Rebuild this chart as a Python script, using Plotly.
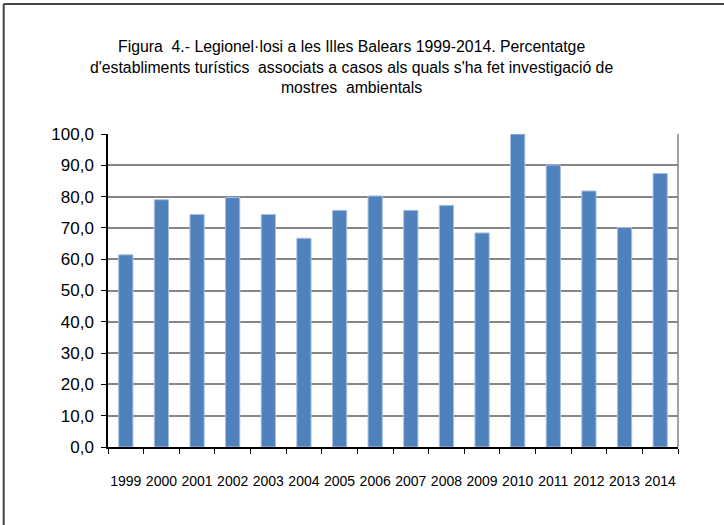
import plotly.graph_objects as go

years = ["1999", "2000", "2001", "2002", "2003", "2004", "2005", "2006",
         "2007", "2008", "2009", "2010", "2011", "2012", "2013", "2014"]
percent = [61.4, 79.0, 74.3, 79.7, 74.3, 66.7, 75.6, 80.2,
           75.6, 77.2, 68.4, 100.0, 90.1, 81.8, 70.1, 87.4]
y_ticks = [0, 10, 20, 30, 40, 50, 60, 70, 80, 90, 100]

title_text = ("Figura  4.- Legionel·losi a les Illes Balears 1999-2014. Percentatge<br>"
              "d'establiments turístics  associats a casos als quals s'ha fet investigació de<br>"
              "mostres  ambientals")

FONT = "Liberation Sans Narrow, Arial Narrow, Liberation Sans, Arial, sans-serif"

fig = go.Figure()
fig.add_trace(go.Bar(
    x=years, y=percent,
    marker=dict(color="#4F81BD", line=dict(color="#A9C1E0", width=1)),
))

fig.update_layout(
    width=724, height=525,
    margin=dict(l=108, r=46, t=134, b=78, autoexpand=False),
    paper_bgcolor="white", plot_bgcolor="white",
    separators=",.",
    showlegend=False,
    bargap=0.6,
    font=dict(family=FONT, size=16, color="black"),
    annotations=[dict(
        text=title_text, xref="paper", yref="paper",
        x=0.428, y=1.213, xanchor="center", yanchor="middle",
        showarrow=False, align="center",
        font=dict(family=FONT, size=15.8, color="black"),
    )],
    shapes=[
        dict(type="line", xref="paper", yref="paper",
             x0=-0.183, x1=1.2, y0=1.415, y1=1.415,
             line=dict(color="#444444", width=2)),
        dict(type="line", xref="paper", yref="paper",
             x0=-0.183, x1=-0.183, y0=-0.3, y1=1.415,
             line=dict(color="#444444", width=2)),
        dict(type="line", xref="paper", yref="paper",
             x0=1, x1=1, y0=0, y1=1,
             line=dict(color="#868686", width=1.5)),
    ],
)

fig.update_xaxes(
    type="category", automargin=False, tickangle=0,
    showline=True, linecolor="black", linewidth=1.5,
    ticks="outside", tickson="boundaries", ticklen=5, tickcolor="black",
    ticklabelstandoff=20,
    tickfont=dict(family=FONT, size=14, color="black"),
    showgrid=False,
)
fig.update_yaxes(
    range=[0, 100], automargin=False,
    tickvals=y_ticks, tickformat=".1f",
    showline=True, linecolor="black", linewidth=1.5,
    ticks="outside", ticklen=5, tickcolor="black",
    ticklabelstandoff=4,
    showgrid=True, gridcolor="#868686", gridwidth=1.5,
    tickfont=dict(family=FONT, size=17, color="black"),
    zeroline=False,
)

fig.write_html("out.html", config={"displayModeBar": False},
               post_script="document.body.style.margin='0';")
